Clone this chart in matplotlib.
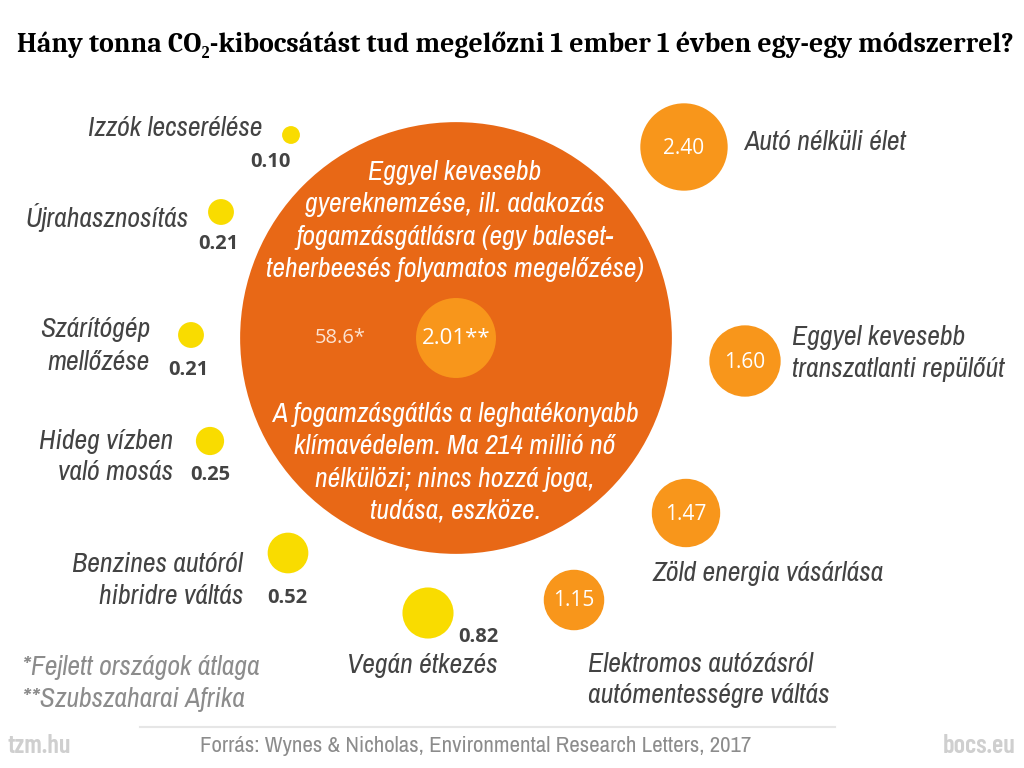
import matplotlib.pyplot as plt
from matplotlib.patches import Circle
import numpy as np

# adatok (tonna CO2 / fő / év)
labels = ["Izzók lecserélése", "Újrahasznosítás", "Szárítógép\nmellőzése",
          "Hideg vízben\nvaló mosás", "Benzines autóról\nhibridre váltás",
          "Vegán étkezés", "Elektromos autózásról\nautómentességre váltás",
          "Zöld energia vásárlása", "Eggyel kevesebb\ntranszatlanti repülőút",
          "Autó nélküli élet"]
values = [0.10, 0.21, 0.21, 0.25, 0.52, 0.82, 1.15, 1.47, 1.60, 2.40]
big_values = [58.6, 2.01]
big_labels = ["58.6*", "2.01**"]

# elrendezés (pixelben)
centers = [(291, 135), (221, 212), (191, 335), (210, 441), (288, 553),
           (428, 613), (574, 600), (686, 513), (745, 361), (684, 147)]
label_pos = [(262, 129, 'right'), (189, 217, 'right'), (150, 346, 'right'),
             (173, 457, 'right'), (243, 580, 'right'), (422, 665, 'center'),
             (588, 680, 'left'), (652, 574, 'left'), (792, 353, 'left'),
             (744, 142, 'left')]
num_pos = [(270, 162), (218, 244), (188, 370), (210, 475), (287, 598),
           (478, 637), None, None, None, None]
big_center = (456, 338)
k = 28.2  # sugár = k * sqrt(érték)

yellow = '#F9DC00'
orange = '#F8961B'
dark_orange = '#E86816'
txt = '#434343'

narrow = ['Archivo Narrow', 'Liberation Sans', 'DejaVu Sans']
numf = ['Open Sans', 'DejaVu Sans']

fig = plt.figure(figsize=(10.24, 7.68), dpi=100)
ax = fig.add_axes([0, 0, 1, 1])
ax.set_xlim(0, 1024)
ax.set_ylim(768, 0)
ax.set_aspect('equal')
ax.axis('off')

for i, v in enumerate(values):
    cx, cy = centers[i]
    r = k * np.sqrt(v)
    col = yellow if v < 1 else orange
    ax.add_patch(Circle((cx, cy), r, color=col, lw=0))
    lx, ly, ha = label_pos[i]
    ax.text(lx, ly, labels[i], ha=ha, va='center', fontsize=20, style='italic',
            color=txt, family=narrow, linespacing=1.35)
    if num_pos[i] is None:
        ax.text(cx, cy + 1, f"{v:.2f}", ha='center', va='center', fontsize=15,
                color='white', family=numf)
    else:
        ax.text(num_pos[i][0], num_pos[i][1], f"{v:.2f}", ha='center', va='center',
                fontsize=14.5, color=txt, family=numf, fontweight='bold')

# nagy kör
ax.add_patch(Circle(big_center, k * np.sqrt(big_values[0]), color=dark_orange, lw=0))
ax.add_patch(Circle(big_center, k * np.sqrt(big_values[1]), color=orange, lw=0))
ax.text(340, big_center[1], big_labels[0], ha='center', va='center', fontsize=14.5,
        color='#FCE2D0', family=numf)
ax.text(big_center[0], big_center[1], big_labels[1], ha='center', va='center',
        fontsize=16, color='white', family=numf)

top_txt = ("Eggyel kevesebb\ngyereknemzése, ill. adakozás\n"
           "fogamzásgátlásra (egy baleset-\nteherbeesés folyamatos megelőzése)")
bottom_txt = ("A fogamzásgátlás a leghatékonyabb\nklímavédelem. Ma 214 millió nő\n"
              "nélkülözi; nincs hozzá joga,\ntudása, eszköze.")
ax.text(455, 221, top_txt, ha='center', va='center', fontsize=20, style='italic',
        color='white', family=narrow, linespacing=1.36)
ax.text(455, 463, bottom_txt, ha='center', va='center', fontsize=20, style='italic',
        color='white', family=narrow, linespacing=1.36)

# cím
ax.text(515, 45, "Hány tonna CO₂-kibocsátást tud megelőzni 1 ember 1 évben egy-egy módszerrel?",
        ha='center', va='center', fontsize=20, fontweight='bold', color='black',
        family=['Caladea', 'Liberation Serif', 'DejaVu Serif'])

# lábjegyzetek
ax.text(22, 667, "*Fejlett országok átlaga", ha='left', va='center', fontsize=20,
        style='italic', color='#8C8C8C', family=narrow)
ax.text(22, 700, "**Szubszaharai Afrika", ha='left', va='center', fontsize=20,
        style='italic', color='#8C8C8C', family=narrow)
ax.plot([140, 835], [727, 727], color='#E6E6E6', lw=1.5)
ax.text(476, 746, "Forrás: Wynes & Nicholas, Environmental Research Letters, 2017",
        ha='center', va='center', fontsize=16.5, color='#8C8C8C', family=narrow)
ax.text(8, 746, "tzm.hu", ha='left', va='center', fontsize=19, color='#CFCFCF',
        family=['Barlow Condensed', 'Liberation Sans'], fontweight='semibold')
ax.text(1016, 746, "bocs.eu", ha='right', va='center', fontsize=19, color='#CFCFCF',
        family=['Barlow Condensed', 'Liberation Sans'], fontweight='semibold')

fig.savefig('out.png', dpi=100)
